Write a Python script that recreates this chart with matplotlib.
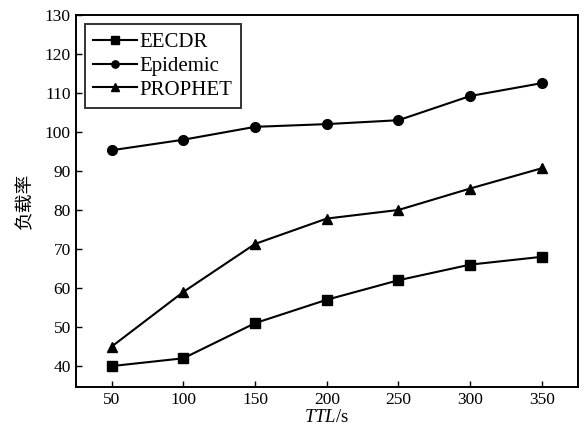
import matplotlib
matplotlib.use("Agg")
import matplotlib.pyplot as plt

ttl = [50, 100, 150, 200, 250, 300, 350]
eecdr = [40, 42, 51, 57, 62, 66, 68]
epidemic = [95.3, 98, 101.3, 102, 103, 109.2, 112.5]
prophet = [45, 59, 71.3, 77.8, 80, 85.5, 90.7]

plt.rcParams['font.family'] = ['Liberation Serif', 'Noto Sans CJK SC']
plt.rcParams['mathtext.fontset'] = 'custom'
plt.rcParams['mathtext.rm'] = 'Liberation Serif'
plt.rcParams['mathtext.it'] = 'Liberation Serif:italic'

fig = plt.figure(figsize=(5.83, 4.36), dpi=100)
ax = fig.add_axes([0.130, 0.112, 0.861, 0.854])

ax.plot(ttl, eecdr, color='black', marker='s', markersize=7, lw=1.5, label='EECDR')
ax.plot(ttl, epidemic, color='black', marker='o', markersize=7, lw=1.5, label='Epidemic')
ax.plot(ttl, prophet, color='black', marker='^', markersize=7, lw=1.5, label='PROPHET')

ax.set_xlim(25, 375)
ax.set_ylim(34.6, 130)
ax.set_xticks(ttl)
ax.set_yticks(range(40, 131, 10))
ax.tick_params(direction='in', labelsize=12.5, length=4, width=1)
for s in ax.spines.values():
    s.set_linewidth(1.4)

ax.set_xlabel(r'$\mathit{TTL}$/s', fontsize=13.5, labelpad=1)
ax.set_ylabel('负载率', fontsize=13.5, family=['Noto Sans CJK SC'], labelpad=7)

leg = ax.legend(loc='upper left', fontsize=15, frameon=True, fancybox=False,
                edgecolor='black', handlelength=2.1, borderpad=0.4,
                labelspacing=0.2, handletextpad=0.1, borderaxespad=0.45,
                markerscale=0.75)
leg.get_frame().set_linewidth(1.4)

fig.savefig('out.png', dpi=100)
